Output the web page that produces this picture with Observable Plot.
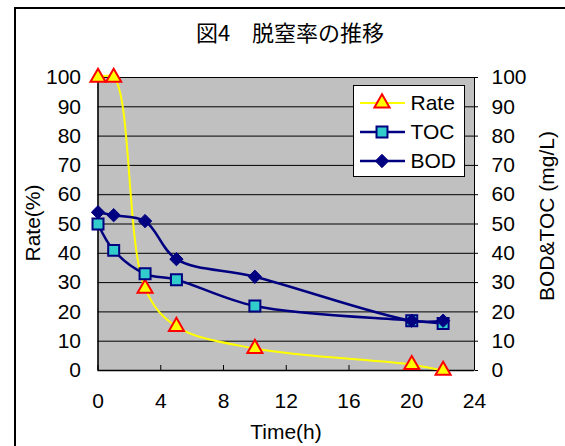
<!DOCTYPE html>
<html>
<head>
<meta charset="utf-8">
<script src="https://cdn.jsdelivr.net/npm/d3@7"></script>
<script src="https://cdn.jsdelivr.net/npm/@observablehq/plot@0.6"></script>
<style>
  html, body { margin: 0; padding: 0; background: #fff; }
  #wrap { position: relative; width: 565px; height: 446px; overflow: hidden; }
  #border { position: absolute; left: 14px; top: 7px; width: 600px; height: 500px;
            border-left: 2px solid #000; border-top: 2px solid #000; box-sizing: border-box; }
  #chart { position: absolute; left: 0; top: 0; }
</style>
</head>
<body>
<div id="wrap"><div id="border"></div><div id="chart"></div></div>
<script>
// Sampling times (h) and measured series
const hours = [0, 1, 3, 5, 10, 20, 22];
const rate = [100, 100, 28, 15, 7.5, 2, 0];   // denitrification rate (%)
const toc  = [50, 41, 33, 31, 22, 17, 16];     // TOC (mg/L)
const bod  = [54, 53, 51, 38, 32, 17, 17];     // BOD (mg/L)

const xTicks = [0, 4, 8, 12, 16, 20, 24];
const yTicks = [0, 10, 20, 30, 40, 50, 60, 70, 80, 90, 100];

const titleText = "図4　脱窒率の推移";
const xLabel = "Time(h)";
const yLabelLeft = "Rate(%)";
const yLabelRight = "BOD&TOC (mg/L)";
const seriesNames = ["Rate", "TOC", "BOD"];

const rows = (vals) => hours.map((h, i) => ({h, v: vals[i]}));
const rateRows = rows(rate), tocRows = rows(toc), bodRows = rows(bod);

const NAVY = "#000080", YELLOW = "#ffff00", RED = "#ff0000", CYAN = "#33cccc";
const font = "'Liberation Sans', Arial, sans-serif";

const chart = Plot.plot({
  width: 565,
  height: 446,
  marginLeft: 97.5,
  marginRight: 91,
  marginTop: 77,
  marginBottom: 76,
  style: {fontFamily: font, fontSize: "21px", color: "#000", background: "transparent", overflow: "visible"},
  x: {domain: [0, 24]},
  y: {domain: [0, 100]},
  marks: [
    Plot.frame({fill: "#c0c0c0", stroke: "#808080"}),
    Plot.ruleY(yTicks.filter(d => d > 0), {y: d => d, stroke: "#000", strokeWidth: 1}),
    Plot.ruleX([0], {stroke: "#000", strokeWidth: 1.5}),
    Plot.ruleY([0], {stroke: "#000", strokeWidth: 1.5}),
    Plot.ruleX([24], {stroke: "#000", strokeWidth: 1}),
    Plot.axisY({anchor: "left", ticks: yTicks, tickSize: 0, tickPadding: 17, label: null, tickFormat: d => String(d)}),
    Plot.axisY({anchor: "right", ticks: yTicks, tickSize: 3, tickPadding: 14, label: null, tickFormat: d => String(d)}),
    Plot.axisX({ticks: xTicks, tickSize: -5, tickPadding: 28, label: null, tickFormat: d => String(d), stroke: "#000"}),

    // Rate
    Plot.line(rateRows, {x: "h", y: "v", curve: "catmull-rom", stroke: YELLOW, strokeWidth: 2}),
    Plot.dot(rateRows, {x: "h", y: "v", symbol: "triangle", r: 5.6, fill: YELLOW, stroke: RED, strokeWidth: 2}),
    // TOC
    Plot.line(tocRows, {x: "h", y: "v", curve: "catmull-rom", stroke: NAVY, strokeWidth: 2.5}),
    Plot.dot(tocRows, {x: "h", y: "v", symbol: "square", r: 6.2, fill: CYAN, stroke: NAVY, strokeWidth: 2}),
    // BOD
    Plot.line(bodRows, {x: "h", y: "v", curve: "catmull-rom", stroke: NAVY, strokeWidth: 2.5}),
    Plot.dot(bodRows, {x: "h", y: "v", symbol: "diamond2", r: 6, fill: NAVY, stroke: NAVY, strokeWidth: 1})
  ]
});

document.getElementById("chart").appendChild(chart);

// Title and axis titles
const svg = d3.select(chart);
svg.append("text")
  .attr("x", 290).attr("y", 33).attr("dy", "0.35em")
  .attr("text-anchor", "middle")
  .style("font-family", "'Noto Sans CJK JP', sans-serif").style("font-size", "22px")
  .text(titleText);
svg.append("text")
  .attr("x", 286).attr("y", 432).attr("dy", "0.35em")
  .attr("text-anchor", "middle").style("font-family", font).style("font-size", "21px")
  .text(xLabel);
svg.append("text")
  .attr("transform", "translate(33,223) rotate(-90)").attr("dy", "0.35em")
  .attr("text-anchor", "middle").style("font-family", font).style("font-size", "21px")
  .text(yLabelLeft);
svg.append("text")
  .attr("transform", "translate(547,216) rotate(-90)").attr("dy", "0.35em")
  .attr("text-anchor", "middle").style("font-family", font).style("font-size", "21px")
  .text(yLabelRight);

// Legend box
const lg = svg.append("g").attr("transform", "translate(353.5,85.5)");
lg.append("rect").attr("width", 111).attr("height", 91).attr("fill", "#fff").attr("stroke", "#000");
const legendStyles = [
  {line: YELLOW, lw: 2, sym: d3.symbolTriangle, size: 100, fill: YELLOW, stroke: RED, sw: 2},
  {line: NAVY, lw: 2.5, sym: d3.symbolSquare, size: 120, fill: CYAN, stroke: NAVY, sw: 2},
  {line: NAVY, lw: 2.5, sym: d3.symbolDiamond2, size: 113, fill: NAVY, stroke: NAVY, sw: 1}
];
seriesNames.forEach((name, i) => {
  const s = legendStyles[i];
  const g = lg.append("g").attr("transform", `translate(0,${17.5 + i * 29})`);
  g.append("line").attr("x1", 6.5).attr("x2", 51.5).attr("stroke", s.line).attr("stroke-width", s.lw);
  g.append("path").attr("transform", "translate(28.5,0)")
    .attr("d", d3.symbol(s.sym, s.size)())
    .attr("fill", s.fill).attr("stroke", s.stroke).attr("stroke-width", s.sw);
  g.append("text").attr("x", 57).attr("dy", "0.35em").attr("text-anchor", "start")
    .style("font-family", font).style("font-size", "21px").text(name);
});
</script>
</body>
</html>
